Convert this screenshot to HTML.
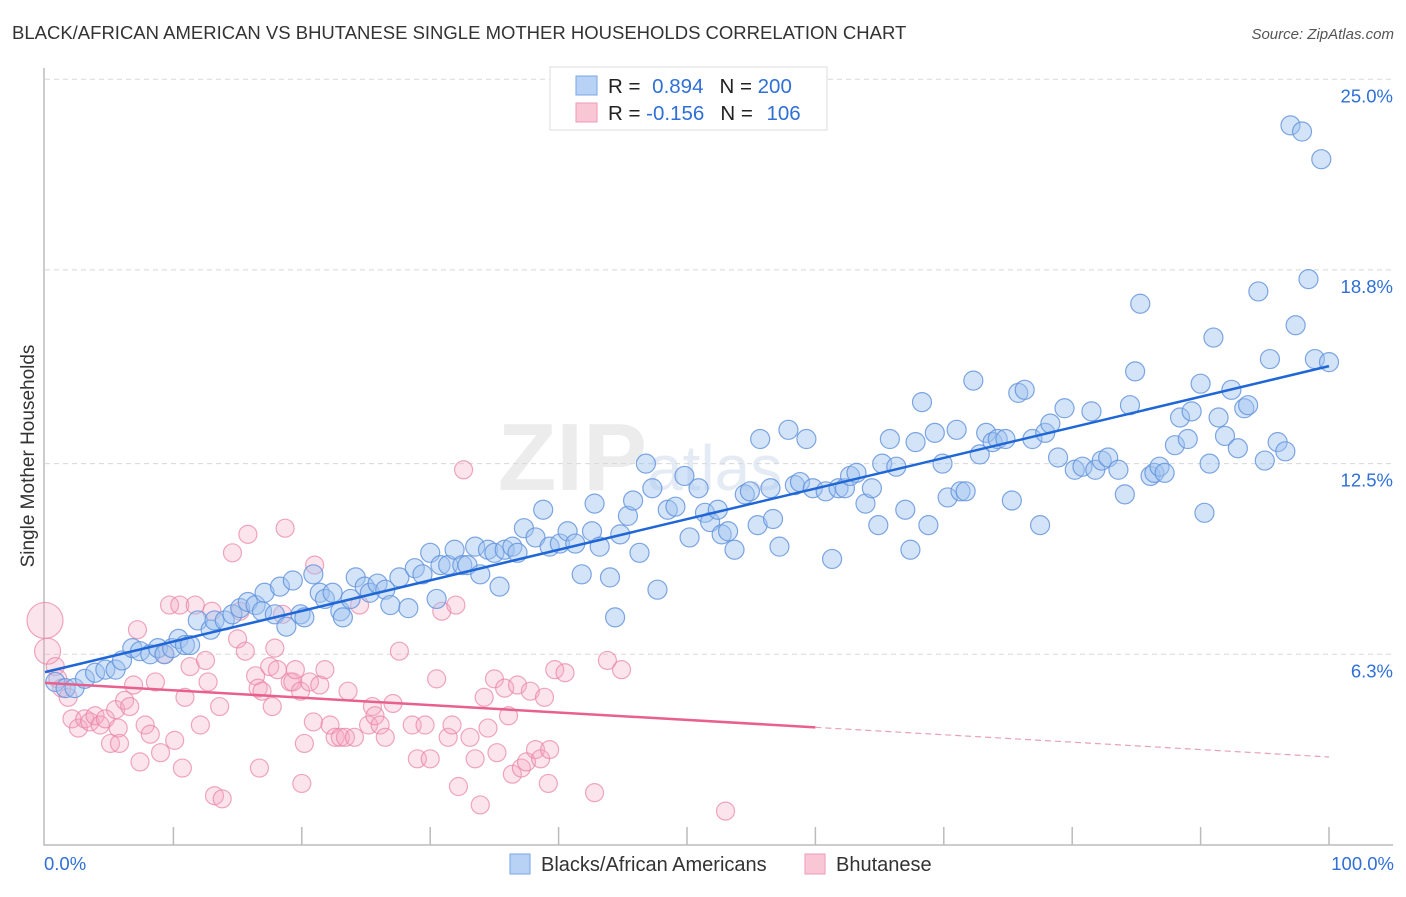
<!DOCTYPE html>
<html><head><meta charset="utf-8">
<style>
body{margin:0;background:#fff;font-family:"Liberation Sans",sans-serif;}
svg text{font-family:"Liberation Sans",sans-serif;}
</style></head>
<body>
<svg id="chart" width="1406" height="892" xmlns="http://www.w3.org/2000/svg">
<text x="12" y="39" font-size="18.5" fill="#333">BLACK/AFRICAN AMERICAN VS BHUTANESE SINGLE MOTHER HOUSEHOLDS CORRELATION CHART</text>
<text x="1394" y="39" font-size="15" fill="#555" font-style="italic" text-anchor="end">Source: ZipAtlas.com</text>
<text x="640" y="490" font-size="96" fill="#ececec" text-anchor="middle" font-weight="bold">ZIP<tspan font-weight="normal" font-size="64" fill="#e4ebf5">atlas</tspan></text>
<g id="grid"></g>
<g id="axes"></g>
<g id="pink"></g>
<g id="blue"></g>
<g id="lines"></g>
<text transform="translate(34,456) rotate(-90)" font-size="19" fill="#333" text-anchor="middle">Single Mother Households</text>
<g>
<rect x="550" y="67" width="277" height="63" fill="#fff" stroke="#ddd"/>
<rect x="576" y="76" width="21" height="19" fill="#b8d2f5" stroke="#7aa6e6"/>
<rect x="576" y="103" width="21" height="19" fill="#f9c6d6" stroke="#ee9ab5"/>
<text x="608" y="93" font-size="20.5" fill="#222">R = <tspan fill="#2f6fd6" dx="6">0.894</tspan><tspan dx="16" fill="#222">N = </tspan><tspan fill="#2f6fd6">200</tspan></text>
<text x="608" y="120" font-size="20.5" fill="#222">R = <tspan fill="#2f6fd6" dx="0">-0.156</tspan><tspan dx="16" fill="#222">N = </tspan><tspan fill="#2f6fd6" dx="8">106</tspan></text>
</g>
<g>
<rect x="510" y="854" width="20" height="20" fill="#b8d2f5" stroke="#7aa6e6"/>
<text x="541" y="871" font-size="20" fill="#333">Blacks/African Americans</text>
<rect x="805" y="854" width="20" height="20" fill="#f9c6d6" stroke="#ee9ab5"/>
<text x="836" y="871" font-size="20" fill="#333">Bhutanese</text>
</g>
</svg>
<script>
const yTicks=[6.3,12.5,18.8,25.0];
const yTickLabels=["6.3%","12.5%","18.8%","25.0%"];
const xTickLabels=["0.0%","100.0%"];
const blueX=[0.8,1.6,2.3,3.1,3.9,4.7,5.5,6.0,6.8,7.4,8.2,8.8,9.3,9.9,10.4,10.9,11.3,11.9,12.9,13.2,14.0,14.6,15.2,15.8,16.4,16.9,17.1,17.9,18.3,18.8,19.3,19.9,20.2,20.9,21.4,21.8,22.4,23.0,23.2,23.8,24.2,24.9,25.3,25.9,26.5,26.9,27.6,28.3,28.8,29.4,30.0,30.5,30.8,31.4,31.9,32.5,32.9,33.5,33.9,34.5,35.0,35.4,35.8,36.4,36.8,37.3,38.2,38.8,39.3,40.1,40.7,41.3,41.8,42.6,43.2,42.8,44.0,44.4,44.8,45.4,45.8,46.3,46.8,47.3,47.7,48.5,49.1,49.8,50.2,50.9,51.4,51.8,52.4,52.7,53.2,53.7,54.5,54.9,55.5,55.7,56.5,56.7,57.2,57.9,58.4,58.8,59.3,59.8,60.8,61.3,61.8,62.3,62.7,63.2,63.9,64.4,64.9,65.2,65.8,66.3,67.0,67.4,67.8,68.3,68.8,69.3,69.9,70.3,71.0,71.3,71.7,72.3,72.8,73.3,73.8,74.2,74.8,75.3,75.8,76.3,76.9,77.5,77.9,78.3,78.9,79.4,80.2,80.8,81.5,81.8,82.3,82.8,83.6,84.1,84.5,84.9,85.3,86.1,86.4,86.8,87.2,88.0,88.4,89.0,89.3,90.0,90.3,90.7,91.0,91.4,91.9,92.4,92.9,93.4,93.7,94.5,95.0,95.4,96.0,96.6,97.4,98.4,98.9,100.0,97.0,97.9,99.4];
const blueY=[5.4,5.2,5.2,5.5,5.7,5.8,5.8,6.1,6.5,6.4,6.3,6.5,6.3,6.5,6.8,6.6,6.6,7.4,7.1,7.4,7.4,7.6,7.8,8.0,7.9,7.7,8.3,7.6,8.5,7.2,8.7,7.6,7.5,8.9,8.3,8.1,8.3,7.7,7.5,8.1,8.8,8.5,8.3,8.6,8.4,7.9,8.8,7.8,9.1,8.9,9.6,8.1,9.2,9.2,9.7,9.2,9.2,9.8,8.9,9.7,9.6,8.5,9.7,9.8,9.6,10.4,10.1,11.0,9.8,9.9,10.3,9.9,8.9,10.3,9.8,11.2,8.8,7.5,10.2,10.8,11.3,9.6,12.5,11.7,8.4,11.0,11.1,12.1,10.1,11.7,10.9,10.6,11.0,10.2,10.3,9.7,11.5,11.6,10.5,13.3,11.7,10.7,9.8,13.6,11.8,11.9,13.3,11.7,11.6,9.4,11.7,11.7,12.1,12.2,11.2,11.7,10.5,12.5,13.3,12.4,11.0,9.7,13.2,14.5,10.5,13.5,12.5,11.4,13.6,11.6,11.6,15.2,12.8,13.5,13.2,13.3,13.3,11.3,14.8,14.9,13.3,10.5,13.5,13.8,12.7,14.3,12.3,12.4,14.2,12.3,12.6,12.7,12.3,11.5,14.4,15.5,17.7,12.1,12.2,12.4,12.2,13.1,14.0,13.3,14.2,15.1,10.9,12.5,16.6,14.0,13.4,14.9,13.0,14.3,14.4,18.1,12.6,15.9,13.2,12.9,17.0,18.5,15.9,15.8,23.5,23.3,22.4];
const pinkX=[0,0.2,0.8,1.0,1.3,1.8,2.1,2.6,3.1,3.5,3.9,4.3,4.7,5.1,5.5,5.7,5.8,6.2,6.6,6.9,7.2,7.4,7.8,8.2,8.6,9.0,9.3,9.7,10.1,10.5,10.7,10.9,11.3,11.7,12.1,12.5,12.7,13.0,13.2,13.6,13.8,14.6,15.0,15.2,15.6,15.8,16.4,16.6,16.7,16.9,17.5,17.7,17.9,18.1,18.5,18.7,19.1,19.3,19.5,19.9,20.0,20.2,20.6,20.9,21.0,21.4,21.8,22.2,22.6,23.0,23.4,23.6,24.1,24.5,25.2,25.5,25.7,26.1,26.5,27.1,27.6,28.6,29.0,29.6,30.0,30.5,30.9,31.4,31.7,32.0,32.2,32.6,33.1,33.5,33.9,34.2,34.5,35.0,35.2,35.8,36.1,36.4,36.8,37.1,37.5,37.8,38.2,38.6,38.9,39.2,39.3,39.7,40.5,42.8,43.8,44.9,53.0];
const pinkY=[7.4,6.4,5.9,5.5,5.2,4.9,4.2,3.9,4.2,4.1,4.3,4.0,4.2,3.4,4.5,3.9,3.4,4.8,4.6,5.3,7.1,2.8,4.0,3.7,5.4,3.1,6.3,7.9,3.5,7.9,2.6,4.9,5.9,7.9,4.0,6.1,5.4,7.7,1.7,4.6,1.6,9.6,6.8,7.7,6.4,10.2,5.6,5.2,2.6,5.1,5.9,4.6,6.5,5.8,7.6,10.4,5.4,5.4,5.8,5.1,2.1,3.4,5.4,4.1,9.2,5.3,5.8,4.0,3.6,3.6,3.6,5.1,3.6,7.9,4.0,4.6,4.3,4.0,3.6,4.7,6.4,4.0,2.9,4.0,2.9,5.5,7.7,3.6,4.0,7.9,2.0,12.3,3.6,2.9,1.4,4.9,3.9,5.5,3.1,5.2,4.3,2.4,5.3,2.6,2.8,5.1,3.2,2.9,4.9,2.1,3.2,5.8,5.7,1.8,6.1,5.8,1.2];
const pinkR=[18,13];
const blueTrend=[5.72,15.67];
const pinkTrend=[5.37,2.96];
const pinkSolidEnd=60;

const NS="http://www.w3.org/2000/svg";
const X0=45,X1=1329,YB=848,YS=30.75;
function xs(v){return X0+(X1-X0)*v/100;}
function ys(v){return YB-v*YS;}
function mk(tag,attrs,parent){const e=document.createElementNS(NS,tag);for(const k in attrs)e.setAttribute(k,attrs[k]);parent.appendChild(e);return e;}
const grid=document.getElementById('grid'),axes=document.getElementById('axes');
yTicks.forEach((t,i)=>{
  const l=mk('line',{x1:45,x2:1393,y1:ys(t),y2:ys(t),stroke:'#d8d8d8','stroke-dasharray':'5,4'},grid);
  
  
  const tx=mk('text',{x:1393,y:ys(t)+23,'font-size':18.5,fill:'#2f6fd6','text-anchor':'end'},axes);
  tx.textContent=yTickLabels[i];
  
  
});
const ax=mk('path',{d:'M44,68 V845 H1393',fill:'none',stroke:'#bbb','stroke-width':1.5},axes);


for(let i=1;i<=10;i++){
  const t=mk('line',{x1:xs(i*10),x2:xs(i*10),y1:827,y2:845,stroke:'#bbb','stroke-width':1.5},axes);
  
  
}
const xl0=mk('text',{x:44,y:870,'font-size':18.5,fill:'#2f6fd6'},axes);xl0.textContent=xTickLabels[0];


const xl1=mk('text',{x:1394,y:870,'font-size':18.5,fill:'#2f6fd6','text-anchor':'end'},axes);xl1.textContent=xTickLabels[1];



const pg=document.getElementById('pink');
pinkX.forEach((x,i)=>{
  const c=mk('circle',{cx:xs(x),cy:ys(pinkY[i]),r:(i<pinkR.length?pinkR[i]:9),fill:'rgba(245,165,192,0.3)',stroke:'rgba(232,130,165,0.7)','stroke-width':1.2},pg);
  
  
});
const bg=document.getElementById('blue');
blueX.forEach((x,i)=>{
  const c=mk('circle',{cx:xs(x),cy:ys(blueY[i]),r:9.5,fill:'rgba(160,196,240,0.45)',stroke:'rgba(95,145,220,0.8)','stroke-width':1.2},bg);
  
  
});
const lg=document.getElementById('lines');
const bl=mk('line',{x1:xs(0),y1:ys(blueTrend[0]),x2:xs(100),y2:ys(blueTrend[1]),stroke:'#1f66d6','stroke-width':2.5},lg);


const pAt=v=>pinkTrend[0]+(pinkTrend[1]-pinkTrend[0])*v/100;
const pl=mk('line',{x1:xs(0),y1:ys(pAt(0)),x2:xs(pinkSolidEnd),y2:ys(pAt(pinkSolidEnd)),stroke:'#e8608e','stroke-width':2.5},lg);


const pd=mk('line',{x1:xs(pinkSolidEnd),y1:ys(pAt(pinkSolidEnd)),x2:xs(100),y2:ys(pAt(100)),stroke:'#e8a0b8','stroke-width':1.2,'stroke-dasharray':'6,4'},lg);


</script>
</body></html>
